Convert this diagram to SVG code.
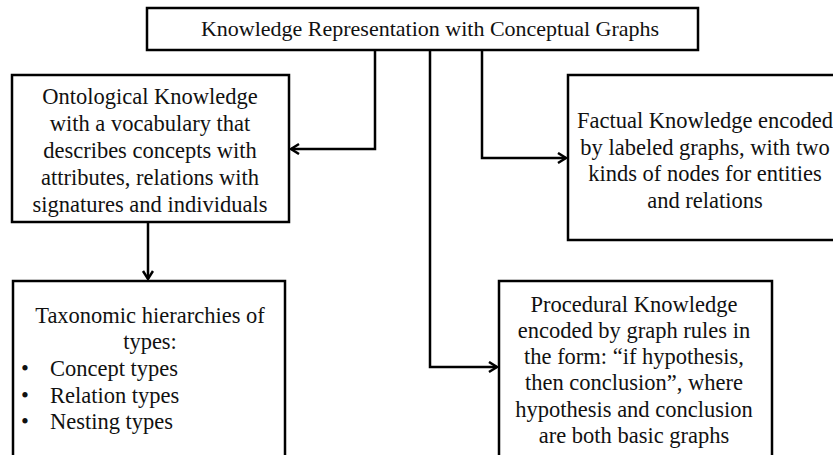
<svg xmlns="http://www.w3.org/2000/svg" width="833" height="455" viewBox="0 0 833 455">
<style>
.box{fill:#fff;stroke:#000;stroke-width:2.5}
.t{font-family:"Liberation Serif","Times New Roman",serif;font-size:22.5px;fill:#111;text-anchor:middle}
.l{text-anchor:start}
.c{fill:none;stroke:#000;stroke-width:2.5}
</style>
<defs>
<marker id="ah" markerUnits="userSpaceOnUse" markerWidth="14" markerHeight="14" refX="10" refY="6" orient="auto">
<path d="M2,1 L10,6 L2,11" fill="none" stroke="#000" stroke-width="2.5"/>
</marker>
</defs>
<g id="connectors">
<path class="c" d="M375,50 V149 H291" marker-end="url(#ah)"/>
<path class="c" d="M482,50 V158 H566" marker-end="url(#ah)"/>
<path class="c" d="M430,50 V367 H497" marker-end="url(#ah)"/>
<path class="c" d="M148,222 V279" marker-end="url(#ah)"/>
</g>
<g id="title">
<rect class="box" x="147" y="8" width="551" height="42"/>
<text class="t" x="430" y="36" style="font-size:22px">Knowledge Representation with Conceptual Graphs</text>
</g>
<g id="ontological">
<rect class="box" x="12" y="75" width="277" height="147"/>
<text class="t" x="150" y="104">Ontological Knowledge</text>
<text class="t" x="150" y="131">with a vocabulary that</text>
<text class="t" x="150" y="158">describes concepts with</text>
<text class="t" x="150" y="185">attributes, relations with</text>
<text class="t" x="150" y="212">signatures and individuals</text>
</g>
<g id="factual">
<rect class="box" x="568" y="75" width="274" height="165"/>
<text class="t" x="705" y="128">Factual Knowledge encoded</text>
<text class="t" x="705" y="155">by labeled graphs, with two</text>
<text class="t" x="705" y="181">kinds of nodes for entities</text>
<text class="t" x="705" y="208">and relations</text>
</g>
<g id="taxonomic">
<rect class="box" x="13" y="281" width="272" height="185"/>
<text class="t" x="150" y="323">Taxonomic hierarchies of</text>
<text class="t" x="150" y="349">types:</text>
<text class="t l" x="21" y="376">•</text>
<text class="t l" x="50" y="376">Concept types</text>
<text class="t l" x="21" y="403">•</text>
<text class="t l" x="50" y="403">Relation types</text>
<text class="t l" x="21" y="429">•</text>
<text class="t l" x="50" y="429">Nesting types</text>
</g>
<g id="procedural">
<rect class="box" x="499" y="281" width="273" height="185"/>
<text class="t" x="634" y="312">Procedural Knowledge</text>
<text class="t" x="634" y="338">encoded by graph rules in</text>
<text class="t" x="634" y="364">the form: “if hypothesis,</text>
<text class="t" x="634" y="390">then conclusion”, where</text>
<text class="t" x="634" y="417">hypothesis and conclusion</text>
<text class="t" x="634" y="443">are both basic graphs</text>
</g>
</svg>
